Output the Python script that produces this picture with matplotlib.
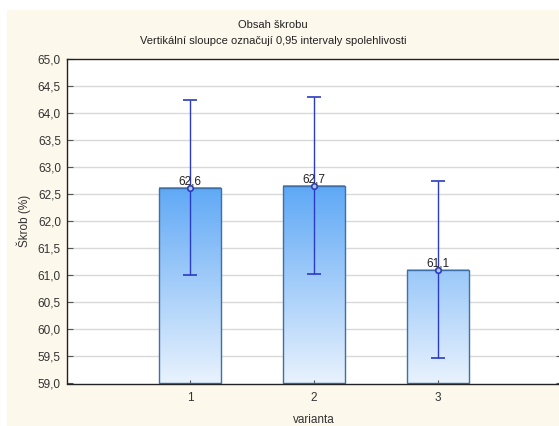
import numpy as np
import matplotlib
matplotlib.use('Agg')
import matplotlib.pyplot as plt
from matplotlib.colors import LinearSegmentedColormap
from matplotlib.patches import Rectangle

plt.rcParams['font.family'] = ['Liberation Sans', 'DejaVu Sans']

# Starch content per variant: means and 0.95 confidence limits
variants = [1, 2, 3]
means = [62.62, 62.66, 61.09]
ci_low = [61.00, 61.02, 59.47]
ci_high = [64.25, 64.30, 62.74]
value_labels = ['62,6', '62,7', '61,1']
y_ticks = [59.0, 59.5, 60.0, 60.5, 61.0, 61.5, 62.0, 62.5, 63.0, 63.5, 64.0, 64.5, 65.0]

W, H = 559, 426
fig = plt.figure(figsize=(W / 100, H / 100), dpi=100, facecolor='white')
# cream page background with a thin white border on top/left
fig.patches.append(Rectangle((7 / W, 0), 1, (H - 10) / H, transform=fig.transFigure,
                             facecolor='#FDF8EC', edgecolor='none', zorder=-10))

left, right, top, bottom = 66.5, 561.5, 59, 383.5
ax = fig.add_axes([left / W, (H - bottom) / H, (right - left) / W, (bottom - top) / H])
ax.set_facecolor('white')

for y in y_ticks[1:-1]:
    ax.axhline(y, color='#D9D9D9', lw=1, zorder=0)

cmap = LinearSegmentedColormap.from_list('bar', ['#E8F2FD', '#52A1F5'])
width = 0.5
for x, m in zip(variants, means):
    grad = np.linspace(59, m, 200).reshape(-1, 1)
    ax.imshow(grad, extent=(x - width / 2, x + width / 2, 59, m), origin='lower',
              aspect='auto', cmap=cmap, vmin=59, vmax=63, zorder=1)
    ax.add_patch(Rectangle((x - width / 2, 59), width, m - 59, facecolor='none',
                           edgecolor='#3D6FA8', lw=1, zorder=2))

yerr = [np.array(means) - np.array(ci_low), np.array(ci_high) - np.array(means)]
ax.errorbar(variants, means, yerr=yerr, fmt='o', color='#2B3BC4', ecolor='#2B3BC4',
            elinewidth=1, capsize=4.7, capthick=1, ms=4, mfc='#AFC8F5', mec='#2B3BC4',
            mew=1.2, zorder=3)

for x, m, lab in zip(variants, means, value_labels):
    ax.text(x, m + 0.01, lab, ha='center', va='bottom', fontsize=8.5, color='#222222', zorder=4)

ax.set_xlim(0, 4)
ax.set_ylim(59, 65)
ax.set_xticks(variants)
ax.set_xticklabels([str(v) for v in variants])
ax.set_yticks(y_ticks)
ax.set_yticklabels([f'{v:.1f}'.replace('.', ',') for v in y_ticks])
ax.tick_params(axis='both', direction='in', length=4, width=0.8, color='#555555',
               labelsize=8.5, labelcolor='#333333', right=True)
ax.tick_params(axis='x', length=3, pad=6)
ax.tick_params(axis='y', pad=4)
for s in ax.spines.values():
    s.set_color('#222222')
    s.set_linewidth(1)

ax.set_ylabel('Škrob (%)', fontsize=8.5, color='#333333', labelpad=5)
ax.set_xlabel('varianta', fontsize=8.5, color='#333333', labelpad=7)

fig.text(273 / W, 1 - 25 / H, 'Obsah škrobu', ha='center', va='center', fontsize=8, color='#222222')
fig.text(273 / W, 1 - 41 / H, 'Vertikální sloupce označují 0,95 intervaly spolehlivosti',
         ha='center', va='center', fontsize=8, color='#222222')

fig.savefig('out.png', dpi=100, facecolor=fig.get_facecolor())
